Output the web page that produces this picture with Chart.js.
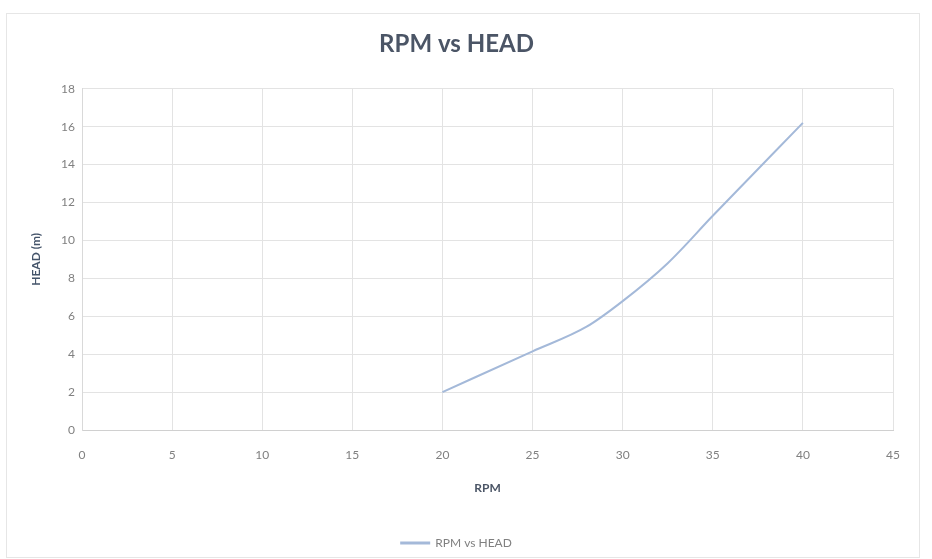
<!DOCTYPE html>
<html>
<head>
<meta charset="utf-8">
<title>RPM vs HEAD</title>
<script src="https://cdn.jsdelivr.net/npm/chart.js@4.4.1/dist/chart.umd.min.js"></script>
<style>
  html, body { margin: 0; padding: 0; background: #ffffff; }
  #wrap { width: 932px; height: 559px; position: relative; }
</style>
</head>
<body>
<div id="wrap"><canvas id="chart" width="932" height="559"></canvas></div>
<script>
// Pump speed (RPM) and the resulting head (m)
const rpm = [20, 25, 28, 30, 32.5, 35, 40];
const head = [2.0, 4.15, 5.45, 6.8, 8.8, 11.3, 16.2];

const xTicks = [0, 5, 10, 15, 20, 25, 30, 35, 40, 45];
const yTicks = [0, 2, 4, 6, 8, 10, 12, 14, 16, 18];

const seriesName = 'RPM vs HEAD';
const lineColor = '#a4b9d9';
const gridColor = '#e3e3e3';
const tickColor = '#808080';
const titleColor = '#4b5566';
const fontFamily = 'Lato, "Open Sans", "Liberation Sans", sans-serif';

// Thin frame around the chart object
const framePlugin = {
  id: 'frame',
  beforeDraw(chart) {
    const ctx = chart.ctx;
    ctx.save();
    ctx.fillStyle = '#ffffff';
    ctx.fillRect(0, 0, chart.width, chart.height);
    ctx.strokeStyle = '#e6e6e6';
    ctx.lineWidth = 1;
    ctx.strokeRect(6.5, 13.5, 913, 544);
    ctx.restore();
  }
};

new Chart(document.getElementById('chart'), {
  type: 'scatter',
  data: {
    datasets: [{
      label: seriesName,
      data: rpm.map((r, i) => ({ x: r, y: head[i] })),
      showLine: true,
      borderColor: lineColor,
      backgroundColor: lineColor,
      borderWidth: 2,
      pointRadius: 0,
      pointHoverRadius: 0,
      cubicInterpolationMode: 'monotone'
    }]
  },
  options: {
    responsive: false,
    animation: false,
    layout: { padding: { left: 20, right: 39, top: 8, bottom: 0 } },
    plugins: {
      tooltip: { enabled: false },
      title: {
        display: true,
        text: seriesName,
        color: titleColor,
        font: { family: fontFamily, size: 24, weight: 'bold' },
        padding: { top: 22, bottom: 30 }
      },
      legend: {
        position: 'bottom',
        labels: {
          color: '#808080',
          font: { family: fontFamily, size: 12 },
          boxWidth: 28,
          boxHeight: 1,
          padding: 10
        }
      }
    },
    scales: {
      x: {
        type: 'linear',
        min: 0,
        max: 45,
        afterBuildTicks(scale) { scale.ticks = xTicks.map(v => ({ value: v })); },
        afterFit(scale) { scale.height = 97; },
        grid: { color: gridColor, lineWidth: 1, drawTicks: false },
        border: { color: '#d0d0d0' },
        ticks: { color: tickColor, padding: 18, font: { family: fontFamily, size: 12 } },
        title: {
          display: true,
          text: 'RPM',
          color: titleColor,
          font: { family: fontFamily, size: 12, weight: 'bold' },
          padding: { top: 0, bottom: 32 }
        }
      },
      y: {
        type: 'linear',
        min: 0,
        max: 18,
        afterBuildTicks(scale) { scale.ticks = yTicks.map(v => ({ value: v })); },
        afterFit(scale) { scale.width = 62; },
        grid: { color: gridColor, lineWidth: 1, drawTicks: false },
        border: { color: '#d9d9d9' },
        ticks: { color: tickColor, padding: 7, font: { family: fontFamily, size: 12 } },
        title: {
          display: true,
          text: 'HEAD (m)',
          color: '#44546a',
          font: { family: fontFamily, size: 12, weight: 'bold' },
          padding: { top: 9, bottom: 0 }
        }
      }
    }
  },
  plugins: [framePlugin]
});
</script>
</body>
</html>
